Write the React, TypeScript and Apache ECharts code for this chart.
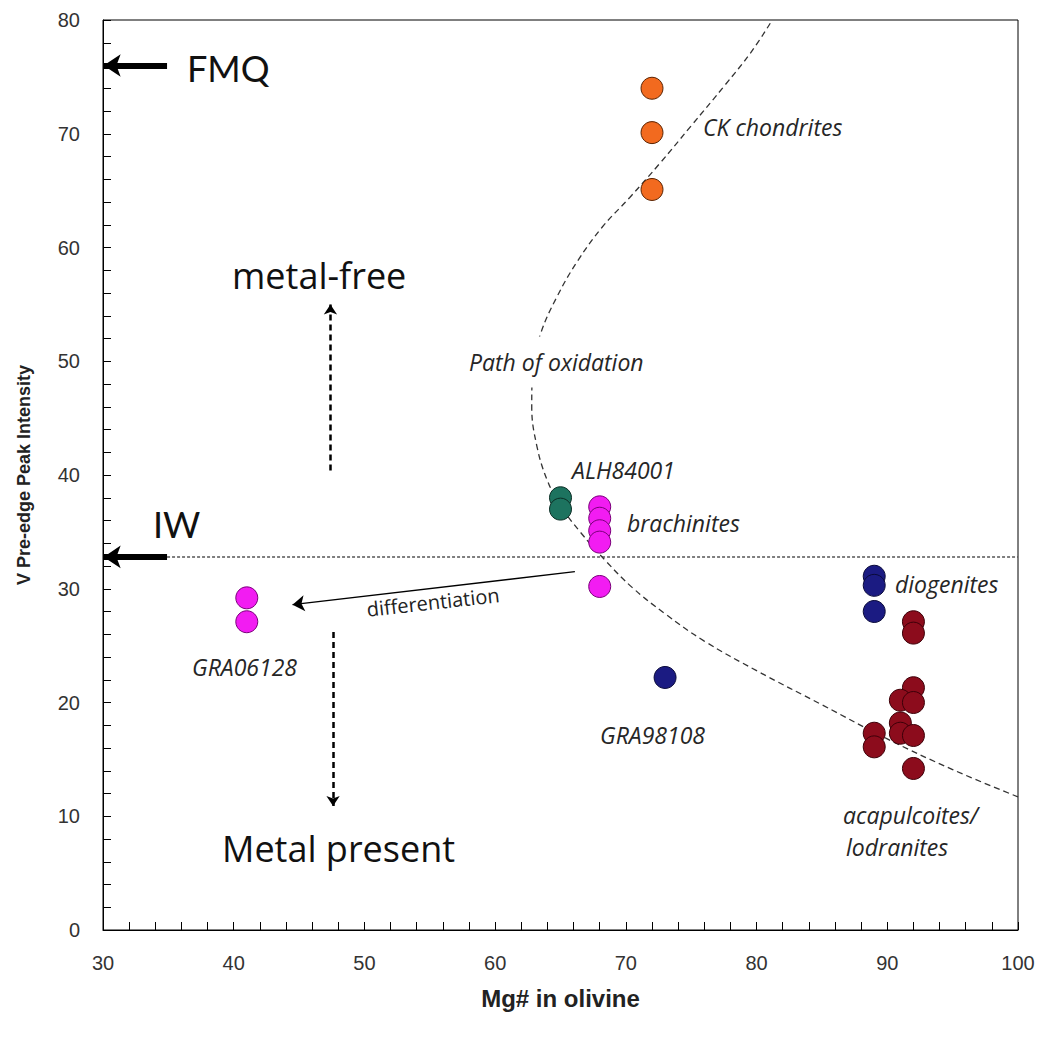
import React, { useEffect, useRef } from "react";
import * as echarts from "echarts";

// ---- data ----
const ckChondrites = [[72, 74], [72, 70.1], [72, 65.1]];
const alh84001 = [[65, 38], [65, 37]];
const brachinites = [[68, 37.2], [68, 36.2], [68, 35.1], [68, 34.1], [68, 30.2]];
const gra06128 = [[41, 29.2], [41, 27.1]];
const gra98108 = [[73, 22.2]];
const diogenites = [[89, 31.1], [89, 30.3], [89, 28]];
const acapulcoites = [
  [92, 27.1], [92, 26.1], [92, 21.3], [91, 20.2], [92, 20], [91, 18.2],
  [91, 17.3], [92, 17.1], [89, 17.3], [89, 16.1], [92, 14.2],
];
const oxidationPath = [
  [100, 11.7], [95, 14.1], [90, 16.8], [85, 19.8], [80, 22.8], [76, 25.4],
  [73, 27.8], [70.5, 30.1], [68.5, 32.4], [66.5, 35], [65, 37.3], [64, 39.5],
  [63.2, 42.5], [62.8, 46], [62.9, 49.5], [63.5, 52.5], [64.7, 55.6], [66.3, 58.8],
  [68.2, 61.8], [70.3, 64.4], [72.6, 67.4], [75, 70.7], [77.6, 74.3], [79.6, 77.2],
  [81.2, 80],
];
const iwLine = [[34.9, 32.8], [100, 32.8]];
const bufferArrows = [
  [[34.9, 76], [30.05, 76]],
  [[34.9, 32.8], [30.05, 32.8]],
];
const metalArrows = [
  [[47.4, 40.4], [47.4, 55]],
  [[47.6, 26.2], [47.6, 10.9]],
];
const diffArrow = [[66.1, 31.5], [44.5, 28.6]];

const xMin = 30, xMax = 100, xStep = 10;
const yMin = 0, yMax = 80, yStep = 10;

const tickFont = "'Liberation Sans', Arial, sans-serif";
const noteFont = "'Open Sans', sans-serif";

function dot(name: string, data: number[][], color: string, border: string) {
  return {
    type: "scatter",
    name,
    data,
    symbol: "circle",
    symbolSize: 22,
    itemStyle: { color, borderColor: border, borderWidth: 1, opacity: 1 },
    z: 5,
  };
}

function note(text: string, x: number, y: number, extra: any = {}) {
  const { rotation, ...style } = extra;
  return {
    type: "text",
    x,
    y,
    rotation: rotation || 0,
    z: 100,
    style: {
      text,
      fontFamily: noteFont,
      fontSize: 23,
      fontStyle: "italic",
      fill: "#262626",
      align: "left",
      verticalAlign: "middle",
      ...style,
    },
  };
}

export default function App() {
  const ref = useRef<HTMLDivElement>(null);
  useEffect(() => {
    document.body.style.margin = "0";
    if (!ref.current) return;
    const chart = echarts.init(ref.current, undefined, { renderer: "svg" });
    const axisCommon = {
      type: "value",
      axisLine: { show: true, onZero: false, lineStyle: { color: "#000", width: 1 } },
      axisTick: { show: true, inside: true, length: 8, lineStyle: { color: "#000", width: 1 } },
      minorTick: { show: true, splitNumber: 5, length: 8, lineStyle: { color: "#000", width: 1 } },
      splitLine: { show: false },
      minorSplitLine: { show: false },
      nameLocation: "middle",
    };
    chart.setOption({
      animation: false,
      backgroundColor: "#fff",
      grid: {
        left: 103, right: 26, top: 20, bottom: 108,
        show: true, borderColor: "#000", borderWidth: 1, backgroundColor: "transparent",
      },
      xAxis: {
        ...axisCommon,
        min: xMin, max: xMax, interval: xStep,
        name: "Mg# in olivine",
        nameGap: 56,
        nameTextStyle: { fontWeight: "bold", fontSize: 24, color: "#222", fontFamily: tickFont },
        axisLabel: { color: "#333", fontSize: 20, fontFamily: tickFont, margin: 23 },
      },
      yAxis: {
        ...axisCommon,
        min: yMin, max: yMax, interval: yStep,
        name: "V Pre-edge Peak Intensity",
        nameGap: 70,
        nameTextStyle: { fontWeight: "bold", fontSize: 18, color: "#222", fontFamily: tickFont },
        axisLabel: { color: "#333", fontSize: 20, fontFamily: tickFont, margin: 23 },
      },
      series: [
        {
          type: "line",
          name: "Path of oxidation",
          data: oxidationPath,
          smooth: 0.4,
          symbol: "none",
          lineStyle: { color: "#333", width: 1.3, type: [6, 4] },
          z: 2,
        },
        {
          type: "lines",
          coordinateSystem: "cartesian2d",
          data: [{ coords: iwLine }],
          symbol: ["none", "none"],
          lineStyle: { color: "#555", width: 1.5, type: [3, 2], opacity: 1 },
          clip: false,
          z: 2,
        },
        {
          type: "lines",
          coordinateSystem: "cartesian2d",
          data: bufferArrows.map((c) => ({ coords: c })),
          symbol: ["none", "arrow"],
          symbolSize: 17,
          lineStyle: { color: "#000", width: 6, opacity: 1 },
          clip: false,
          z: 3,
        },
        {
          type: "lines",
          coordinateSystem: "cartesian2d",
          data: metalArrows.map((c) => ({ coords: c })),
          symbol: ["none", "arrow"],
          symbolSize: 10,
          lineStyle: { color: "#000", width: 2.5, type: [6, 4], opacity: 1 },
          clip: false,
          z: 3,
        },
        {
          type: "lines",
          coordinateSystem: "cartesian2d",
          data: [{ coords: diffArrow }],
          symbol: ["none", "arrow"],
          symbolSize: 12,
          lineStyle: { color: "#000", width: 1.3, opacity: 1 },
          clip: false,
          z: 3,
        },
        dot("CK chondrites", ckChondrites, "#F26A1F", "#5a2200"),
        dot("ALH84001", alh84001, "#1D735F", "#0b2e25"),
        dot("brachinites", brachinites, "#F21CF2", "#7a007a"),
        dot("GRA06128", gra06128, "#F21CF2", "#7a007a"),
        dot("GRA98108", gra98108, "#1B1B82", "#0a0a3a"),
        dot("diogenites", diogenites, "#1B1B82", "#0a0a3a"),
        dot("acapulcoites/lodranites", acapulcoites, "#8C0C1C", "#3d0008"),
      ],
      graphic: [
        note("FMQ", 187, 68, { fontFamily: "Lato", fontSize: 36, fontStyle: "normal", fill: "#111" }),
        note("IW", 153, 524, { fontFamily: "Lato", fontSize: 36, fontStyle: "normal", fill: "#111" }),
        note("metal-free", 232, 275, { fontSize: 36, fontStyle: "normal", fill: "#111" }),
        note("Metal present", 222, 848, { fontSize: 36, fontStyle: "normal", fill: "#111" }),
        note("CK chondrites", 703, 127),
        note("Path of oxidation", 465, 362, { backgroundColor: "#fff", padding: [15, 4, 13, 4] }),
        note("ALH84001", 572, 470),
        note("brachinites", 627, 523),
        note("diogenites", 895, 584),
        note("GRA06128", 192, 667),
        note("GRA98108", 600, 735),
        note("acapulcoites/", 843, 815),
        note("lodranites", 846, 847),
        note("differentiation", 433, 602, {
          fontSize: 20, fontStyle: "normal", align: "center", rotation: 0.11, fill: "#222",
        }),
      ],
    });
    return () => chart.dispose();
  }, []);
  return <div ref={ref} style={{ width: 1044, height: 1038 }} />;
}
